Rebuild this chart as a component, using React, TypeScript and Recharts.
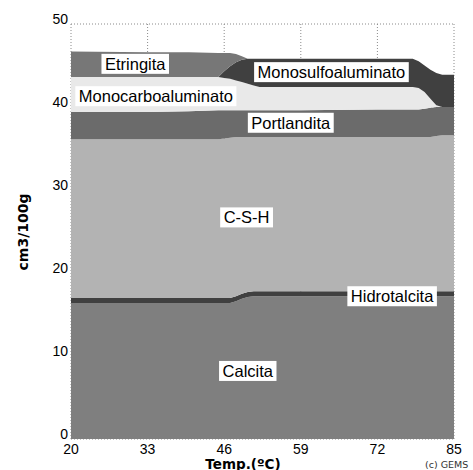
import React from 'react';
import { AreaChart, Area, XAxis, YAxis, CartesianGrid, ReferenceDot } from 'recharts';

const temps = [20, 33, 40, 45, 46, 47, 48, 49, 50, 51, 52, 59, 72, 78, 79, 80, 81, 82, 83, 84, 85];
const calcita = [16.4, 16.4, 16.4, 16.4, 16.4, 16.4, 16.6, 16.9, 17.1, 17.2, 17.2, 17.2, 17.2, 17.2, 17.2, 17.2, 17.2, 17.2, 17.2, 17.2, 17.2];
const hidrotalcita = [0.6, 0.6, 0.6, 0.6, 0.6, 0.6, 0.6, 0.6, 0.6, 0.6, 0.6, 0.6, 0.6, 0.6, 0.6, 0.6, 0.6, 0.6, 0.6, 0.6, 0.6];
const csh = [19.1, 19.1, 19.1, 19.1, 19.2, 19.3, 19.2, 18.9, 18.7, 18.6, 18.6, 18.6, 18.6, 18.6, 18.6, 18.6, 18.6, 18.7, 18.8, 18.8, 18.8];
const portlandita = [3.3, 3.3, 3.4, 3.5, 3.4, 3.3, 3.2, 3.2, 3.2, 3.2, 3.2, 3.2, 3.3, 3.3, 3.3, 3.4, 3.5, 3.5, 3.4, 3.4, 3.4];
const monocarbo = [4.2, 4.2, 4.1, 4.0, 3.9, 3.8, 3.6, 3.4, 3.2, 3.0, 2.8, 2.8, 2.7, 2.7, 2.6, 2.0, 1.1, 0.2, 0, 0, 0];
const monosulfo = [0, 0, 0, 0, 0.8, 1.5, 2.2, 2.7, 3.0, 3.2, 3.4, 3.4, 3.4, 3.4, 3.2, 3.2, 3.5, 3.9, 3.9, 3.9, 3.9];
const etringita = [3.1, 3.0, 3.0, 2.9, 2.2, 1.6, 1.0, 0.4, 0, 0, 0, 0, 0, 0, 0, 0, 0, 0, 0, 0, 0];

const xTicks = [20, 33, 46, 59, 72, 85];
const yTicks = [0, 10, 20, 30, 40, 50];

// rótulos das fases (posição em coordenadas do gráfico)
const labelNames = ['Etringita', 'Monocarboaluminato', 'Monosulfoaluminato', 'Portlandita', 'C-S-H', 'Hidrotalcita', 'Calcita'];
const labelX = [30.9, 34.4, 64.2, 57.3, 49.8, 74.5, 50.0];
const labelY = [45.2, 41.3, 44.2, 38.1, 26.7, 17.2, 8.2];

const data = temps.map((t, i) => ({
  x: t,
  calcita: calcita[i],
  hidrotalcita: hidrotalcita[i],
  csh: csh[i],
  portlandita: portlandita[i],
  monocarbo: monocarbo[i],
  monosulfo: monosulfo[i],
  etringita: etringita[i],
}));

const series = [
  { key: 'calcita', color: '#7f7f7f' },
  { key: 'hidrotalcita', color: '#404040' },
  { key: 'csh', color: '#b3b3b3' },
  { key: 'portlandita', color: '#6b6b6b' },
  { key: 'monocarbo', color: '#e9e9e9' },
  { key: 'monosulfo', color: '#404040' },
  { key: 'etringita', color: '#777777' },
];

const LABEL_FONT = '16.5px "Liberation Sans", Arial, sans-serif';

const measure = (txt: string) => {
  const ctx = document.createElement('canvas').getContext('2d');
  if (!ctx) return txt.length * 8.5;
  ctx.font = LABEL_FONT;
  return ctx.measureText(txt).width;
};

const makeLabel = (txt: string) => (props: any) => {
  const { cx, cy } = props;
  const w = measure(txt) + 7;
  const h = 20;
  return (
    <g>
      <rect x={cx - w / 2} y={cy - h / 2} width={w} height={h} fill="#ffffff" />
      <text x={cx} y={cy + 6} textAnchor="middle" style={{ font: LABEL_FONT }} fill="#000">
        {txt}
      </text>
    </g>
  );
};

const YTick = (props: any) => {
  const { x, y, payload } = props;
  return (
    <text x={x - 1} y={y} textAnchor="end" fontFamily='"Liberation Sans", Arial' fontSize={14} fill="#000">
      {payload.value}
    </text>
  );
};

const XTick = (props: any) => {
  const { x, y, payload } = props;
  return (
    <text x={x} y={y + 13} textAnchor="middle" fontFamily='"Liberation Sans", Arial' fontSize={14} fill="#000">
      {payload.value}
    </text>
  );
};

export default function App() {
  return (
    <div style={{ position: 'absolute', left: 0, top: 0, width: 473, height: 470, background: '#fff' }}>
      <AreaChart width={473} height={470} data={data} margin={{ top: 24, right: 19, bottom: 0, left: 31 }}>
        <CartesianGrid stroke="#8a8a8a" strokeDasharray="1 2" />
        <XAxis
          type="number"
          dataKey="x"
          domain={[20, 85]}
          ticks={xTicks}
          axisLine={false}
          tickLine={false}
          tickSize={0}
          height={31}
          tick={<XTick />}
        />
        <YAxis
          type="number"
          domain={[0, 50]}
          ticks={yTicks}
          axisLine={false}
          tickLine={false}
          tickSize={0}
          width={40}
          tick={<YTick />}
        />
        {series.map((s) => (
          <Area
            key={s.key}
            type="linear"
            dataKey={s.key}
            stackId="1"
            stroke="none"
            fill={s.color}
            fillOpacity={1}
            isAnimationActive={false}
            dot={false}
            activeDot={false}
          />
        ))}
        {labelNames.map((n, i) => (
          <ReferenceDot key={n} x={labelX[i]} y={labelY[i]} r={0} ifOverflow="visible" shape={makeLabel(n)} />
        ))}
      </AreaChart>
      <svg width={473} height={470} style={{ position: 'absolute', left: 0, top: 0, pointerEvents: 'none' }}>
        <text
          x={22.5}
          y={232}
          transform="rotate(-90 22.5 232)"
          textAnchor="middle"
          dominantBaseline="central"
          fontFamily='"DejaVu Sans", Verdana, sans-serif'
          fontWeight="bold"
          fontSize={14}
          fill="#000"
        >
          cm3/100g
        </text>
        <text
          x={243}
          y={468.5}
          textAnchor="middle"
          fontFamily='"DejaVu Sans", Verdana, sans-serif'
          fontWeight="bold"
          fontSize={13.5}
          fill="#000"
        >
          Temp.(ºC)
        </text>
        <text x={425} y={468} fontFamily='"DejaVu Sans", Verdana, sans-serif' fontSize={9.5} fill="#333">
          (c) GEMS
        </text>
      </svg>
    </div>
  );
}
